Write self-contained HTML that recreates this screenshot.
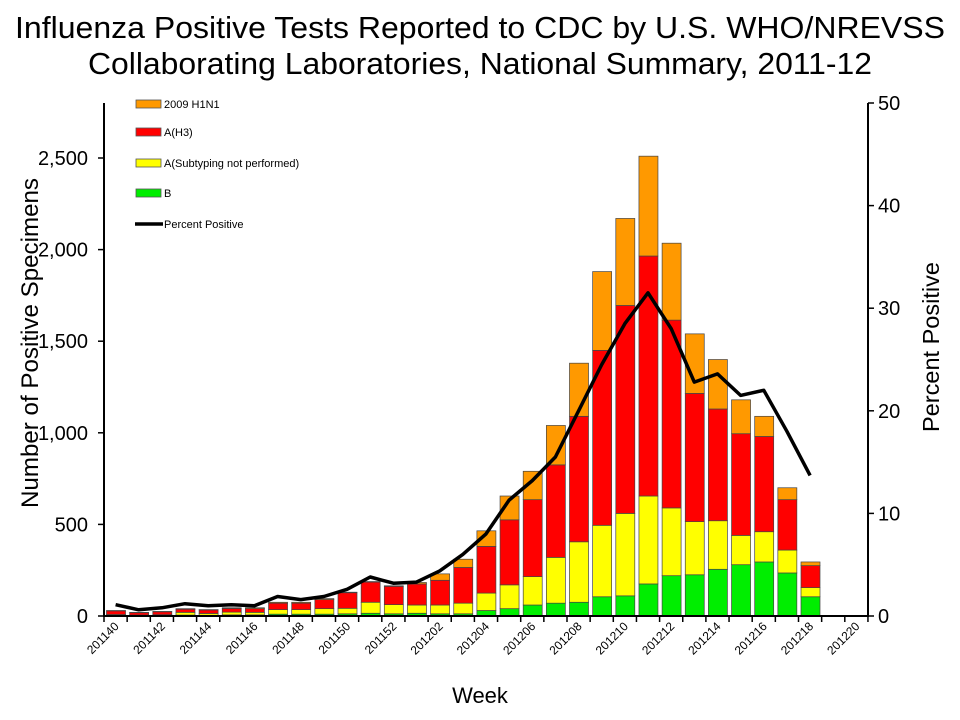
<!DOCTYPE html>
<html><head><meta charset="utf-8"><style>body{margin:0;background:#fff}svg{display:block}text{font-family:"Liberation Sans",Arial,sans-serif}</style></head>
<body>
<svg id="s" width="960" height="720" xmlns="http://www.w3.org/2000/svg">
<rect width="960" height="720" fill="#fff"/>
<text x="480" y="38" font-size="31" text-anchor="middle" textLength="930" lengthAdjust="spacingAndGlyphs">Influenza Positive Tests Reported to CDC by U.S. WHO/NREVSS</text>
<text x="480" y="74" font-size="31" text-anchor="middle" textLength="784" lengthAdjust="spacingAndGlyphs">Collaborating Laboratories, National Summary, 2011-12</text>
<text transform="translate(38,343) rotate(-90)" font-size="24" text-anchor="middle" textLength="330" lengthAdjust="spacingAndGlyphs">Number of Positive Specimens</text>
<text transform="translate(939,347) rotate(-90)" font-size="23" text-anchor="middle" textLength="170" lengthAdjust="spacingAndGlyphs">Percent Positive</text>
<text x="480" y="703" font-size="22" text-anchor="middle">Week</text>
<g id="bars"></g>
<g id="axes" stroke="#000" stroke-width="2" fill="none">
<line x1="104" y1="103" x2="104" y2="617"/>
<line x1="868" y1="103" x2="868" y2="617"/>
<line x1="103" y1="616" x2="869" y2="616"/>
</g>
<g id="lbl"></g>
<g font-size="11">
<rect x="136" y="100" width="25" height="8" fill="#ff9900" stroke="#555" stroke-width="0.8"/><text x="164" y="108">2009 H1N1</text>
<rect x="136" y="128" width="25" height="8" fill="#ff0000" stroke="#555" stroke-width="0.8"/><text x="164" y="136">A(H3)</text>
<rect x="136" y="159" width="25" height="8" fill="#ffff00" stroke="#555" stroke-width="0.8"/><text x="164" y="167">A(Subtyping not performed)</text>
<rect x="136" y="189" width="25" height="8" fill="#00ee00" stroke="#555" stroke-width="0.8"/><text x="164" y="197">B</text>
<line x1="135" y1="224" x2="163" y2="224" stroke="#000" stroke-width="3.5"/><text x="164" y="228">Percent Positive</text>
</g>
</svg>
<script>
const NS="http://www.w3.org/2000/svg";
const d=[[3,5,20,2,1.1],[2,3,13,2,0.6],[3,4,16,2,0.8],[5,15,17,3,1.2],[4,10,19,2,1.0],[6,15,20,4,1.1],[6,14,20,5,1.0],[10,25,35,5,1.9],[10,25,35,5,1.6],[10,30,50,5,1.9],[12,30,85,3,2.6],[15,60,110,3,3.8],[12,50,100,3,3.2],[15,45,115,8,3.3],[12,48,135,35,4.4],[12,58,195,45,6.0],[30,95,255,85,8.0],[40,130,355,130,11.3],[60,155,420,155,13.2],[70,250,505,215,15.5],[75,330,685,290,20],[105,390,955,430,24.5],[110,450,1135,475,28.5],[175,480,1310,545,31.5],[220,370,1025,420,28],[225,290,700,325,22.8],[255,265,610,270,23.6],[280,160,555,185,21.5],[295,165,520,110,22],[235,125,275,65,18],[105,50,120,20,13.7]];
const s=document.getElementById('s'),bars=document.getElementById('bars'),lbl=document.getElementById('lbl');
const X0=104,W=23.15,k=0.1832,pk=10.26;
function el(t,a,p,txt){const e=document.createElementNS(NS,t);for(const q in a)e.setAttribute(q,a[q]);if(txt!==undefined)e.textContent=txt;p.appendChild(e);return e;}
const cols=['#00ee00','#ffff00','#ff0000','#ff9900'];
let pts=[];
d.forEach((r,i)=>{let y=616;const x=X0+W*i+2.5;
 for(let j=0;j<4;j++){const h=r[j]*k;if(h<=0)continue;y-=h;el('rect',{x:x,y:y,width:19,height:h,fill:cols[j],stroke:'#444','stroke-width':0.7},bars);}
 pts.push((X0+W*i+W/2).toFixed(1)+','+(616-r[4]*pk).toFixed(1));});
el('polyline',{points:pts.join(' '),fill:'none',stroke:'#000','stroke-width':3.5,'stroke-linejoin':'round'},s);
for(let i=0;i<=33;i++){const x=X0+W*i;el('line',{x1:x,y1:616,x2:x,y2:622,stroke:'#000','stroke-width':1.5},lbl);}
const wk=[];for(let w=40;w<=52;w++)wk.push('2011'+w);for(let w=1;w<=20;w++)wk.push('2012'+String(w).padStart(2,'0'));
wk.forEach((w,i)=>{if(i%2)return;const cx=X0+W*i+W/2+4;el('text',{transform:`translate(${cx},627) rotate(-45)`,'font-size':12,'text-anchor':'end'},lbl,w);});
['0','500','1,000','1,500','2,000','2,500'].forEach((t,i)=>{const y=616-i*500*k;el('line',{x1:98,y1:y,x2:104,y2:y,stroke:'#000','stroke-width':1.5},lbl);el('text',{x:88,y:y+7,'font-size':20,'text-anchor':'end'},lbl,t);});
for(let i=0;i<=5;i++){const y=616-i*10*pk;el('line',{x1:868,y1:y,x2:874,y2:y,stroke:'#000','stroke-width':1.5},lbl);el('text',{x:878,y:y+7,'font-size':20},lbl,String(i*10));}
</script>
</body></html>
